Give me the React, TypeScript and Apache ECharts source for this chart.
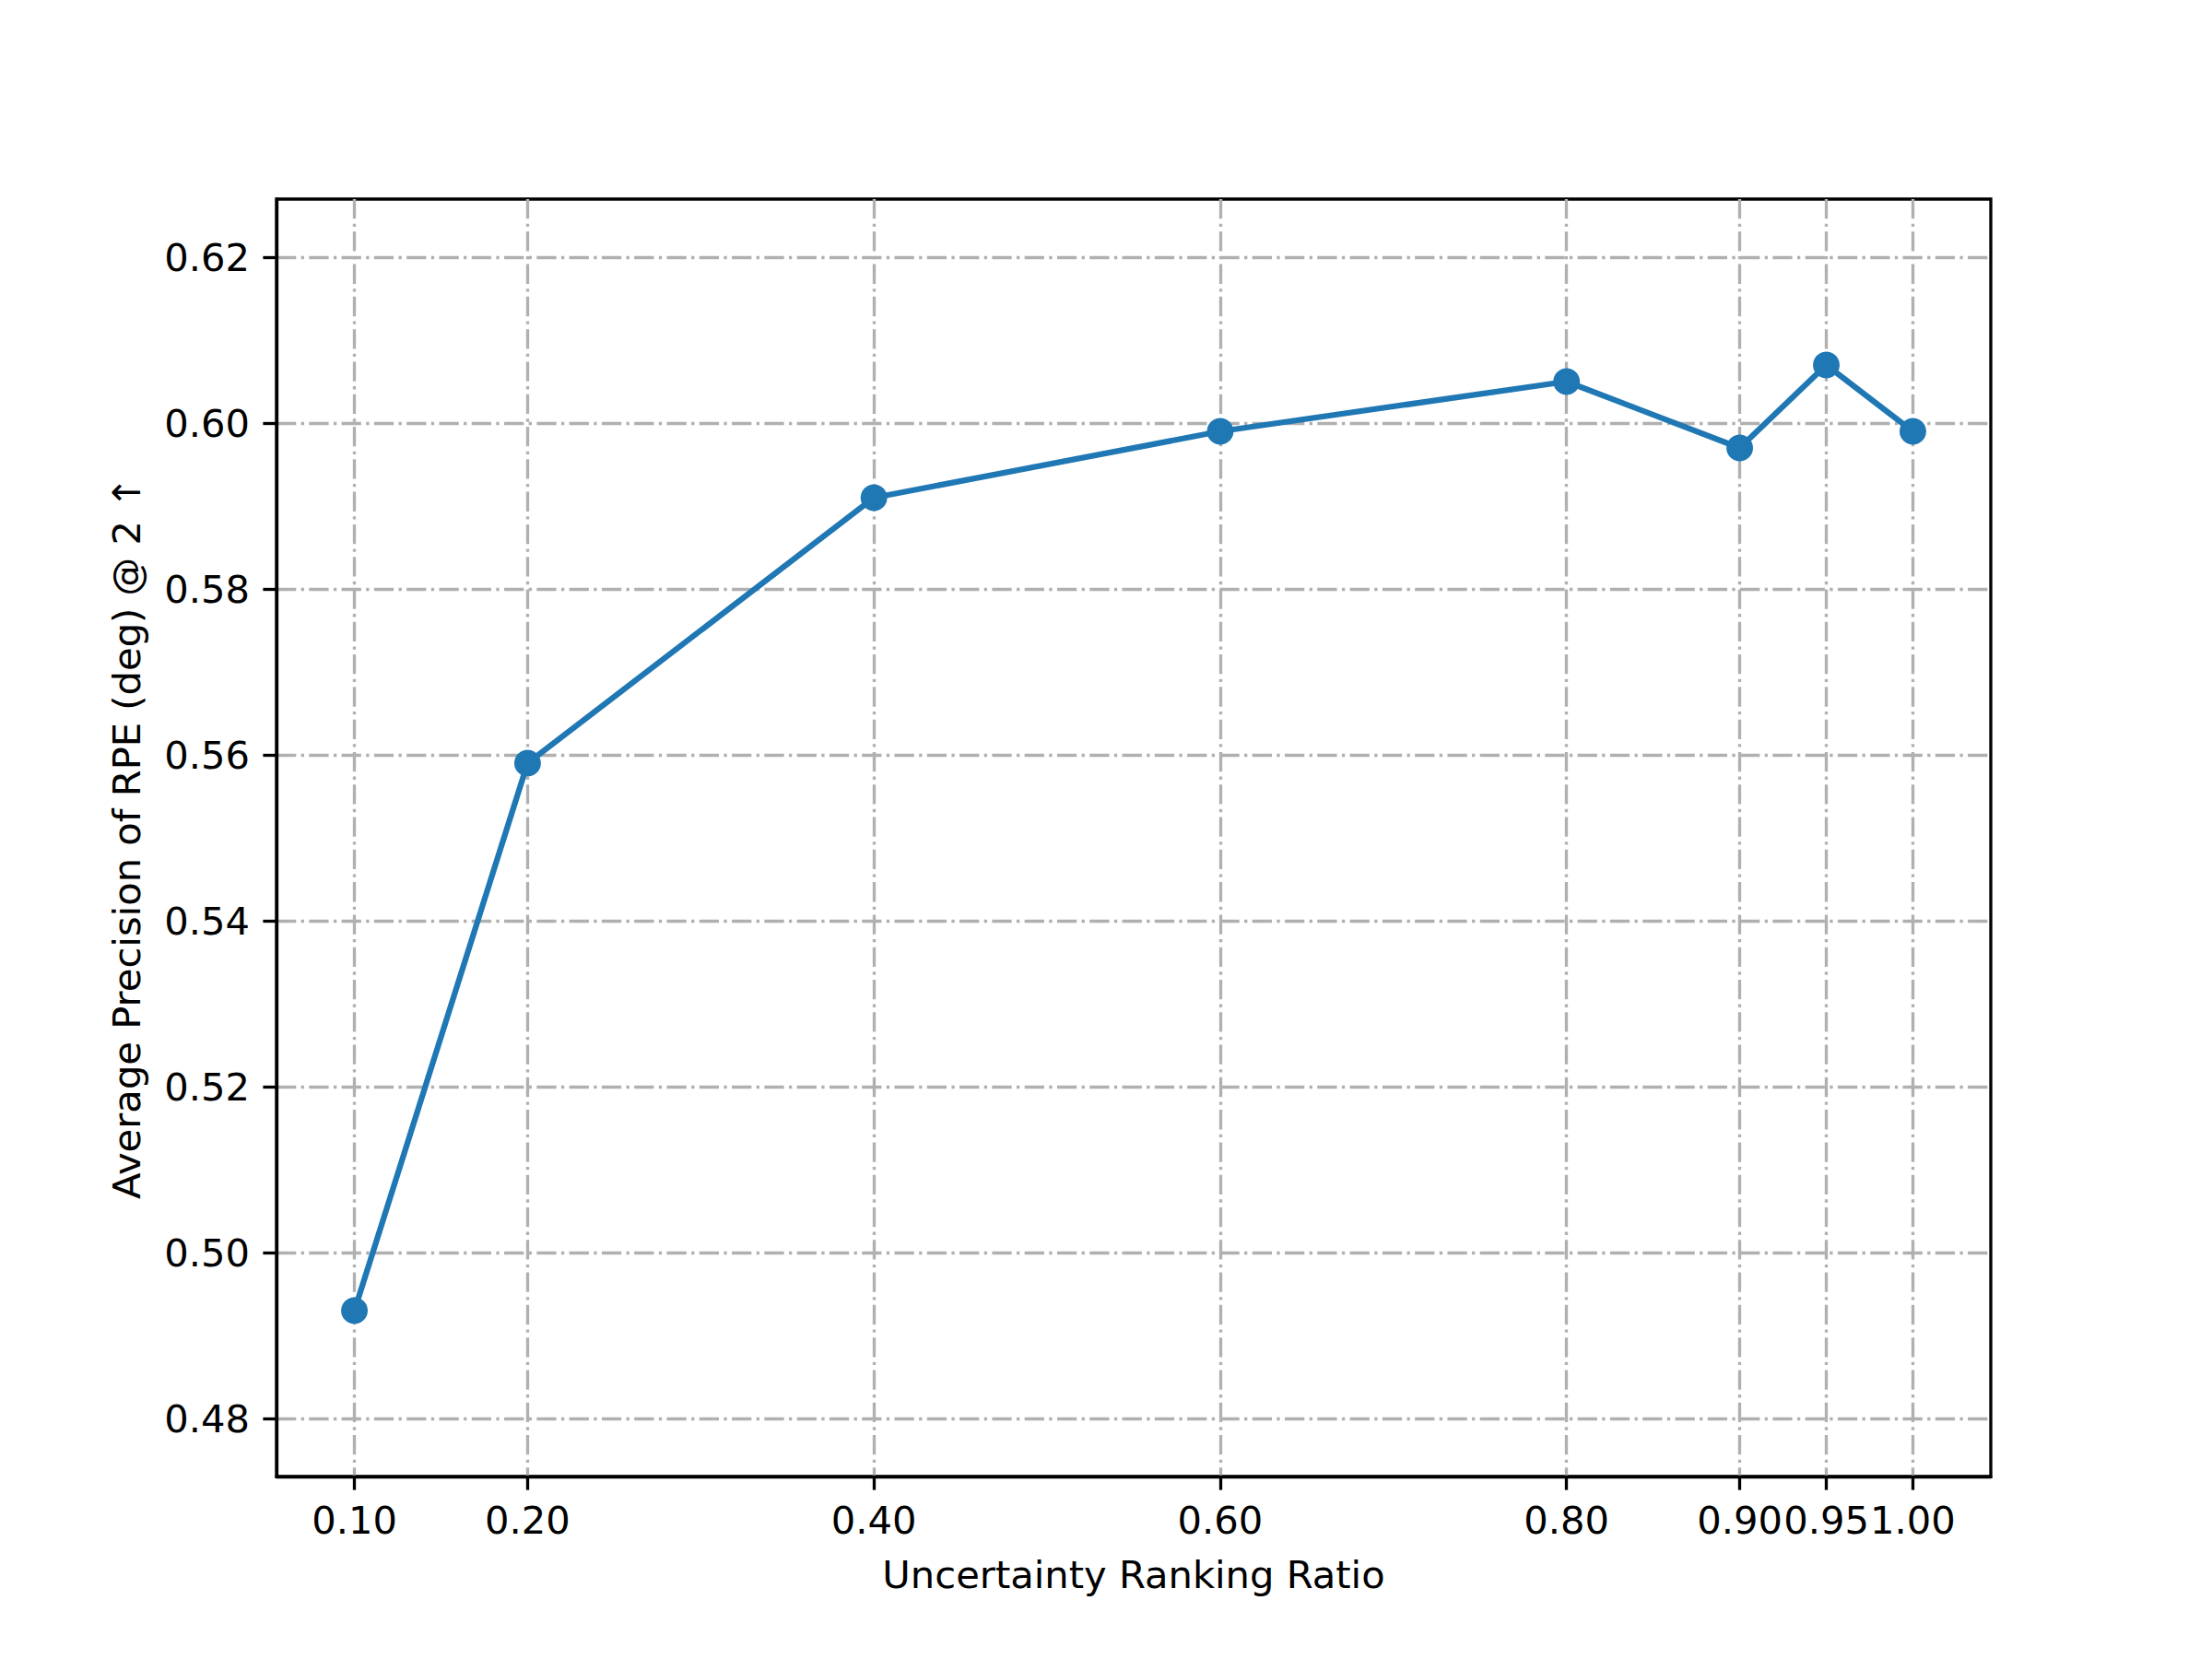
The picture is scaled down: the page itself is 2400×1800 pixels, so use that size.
import React, { useEffect, useRef } from "react";
import * as echarts from "echarts";

const xValues = [0.1, 0.2, 0.4, 0.6, 0.8, 0.9, 0.95, 1.0];
const yValues = [0.493, 0.559, 0.591, 0.599, 0.605, 0.597, 0.607, 0.599];
const xTicks = [0.1, 0.2, 0.4, 0.6, 0.8, 0.9, 0.95, 1.0];
const yTicks = [0.48, 0.5, 0.52, 0.54, 0.56, 0.58, 0.6, 0.62];
const xAxisTitle = "Uncertainty Ranking Ratio";
const yAxisTitle = "Average Precision of RPE (deg) @ 2 ↑";

const FONT = "DejaVu Sans";
const FS = 41.67;
const LW = 3.33;
const gridDash = [21.3, 5.33, 3.33, 5.33];

export default function App() {
  const ref = useRef<HTMLDivElement>(null);
  useEffect(() => {
    if (!ref.current) return;
    const chart = echarts.init(ref.current, undefined, { renderer: "svg" });
    const axisCommon = {
      axisLine: { show: true, onZero: false, lineStyle: { color: "#000", width: LW } },
      axisTick: { show: true, length: 14.6, lineStyle: { color: "#000", width: LW } },
      splitLine: { show: true, lineStyle: { color: "#b0b0b0", width: LW, type: gridDash } },
      nameTextStyle: { fontFamily: FONT, fontSize: FS, color: "#000" },
    };
    chart.setOption({
      animation: false,
      backgroundColor: "#fff",
      grid: {
        left: 300,
        right: 240,
        top: 216,
        bottom: 198,
        show: true,
        borderColor: "#000",
        borderWidth: LW,
        containLabel: false,
      },
      xAxis: {
        type: "value",
        min: 0.055,
        max: 1.045,
        name: xAxisTitle,
        nameLocation: "middle",
        nameGap: 85,
        ...axisCommon,
        axisTick: { ...axisCommon.axisTick, customValues: xTicks },
        axisLabel: {
          customValues: xTicks,
          margin: 26,
          fontFamily: FONT,
          fontSize: FS,
          color: "#000",
          verticalAlign: "top",
          formatter: (v: number) => v.toFixed(2),
        },
      },
      yAxis: {
        type: "value",
        min: 0.473,
        max: 0.627,
        name: yAxisTitle,
        nameLocation: "middle",
        nameGap: 142,
        ...axisCommon,
        axisTick: { ...axisCommon.axisTick, customValues: yTicks },
        axisLabel: {
          customValues: yTicks,
          margin: 29,
          fontFamily: FONT,
          fontSize: FS,
          color: "#000",
          formatter: (v: number) => v.toFixed(2),
        },
      },
      series: [
        {
          type: "line",
          data: xValues.map((x, i) => [x, yValues[i]]),
          color: "#1f77b4",
          lineStyle: { width: 6.25, color: "#1f77b4" },
          itemStyle: { color: "#1f77b4" },
          symbol: "circle",
          symbolSize: 29,
          showSymbol: true,
          z: 5,
        },
      ],
    });
    return () => chart.dispose();
  }, []);
  return (
    <div
      ref={ref}
      style={{ position: "absolute", left: 0, top: 0, width: 2400, height: 1800 }}
    />
  );
}
